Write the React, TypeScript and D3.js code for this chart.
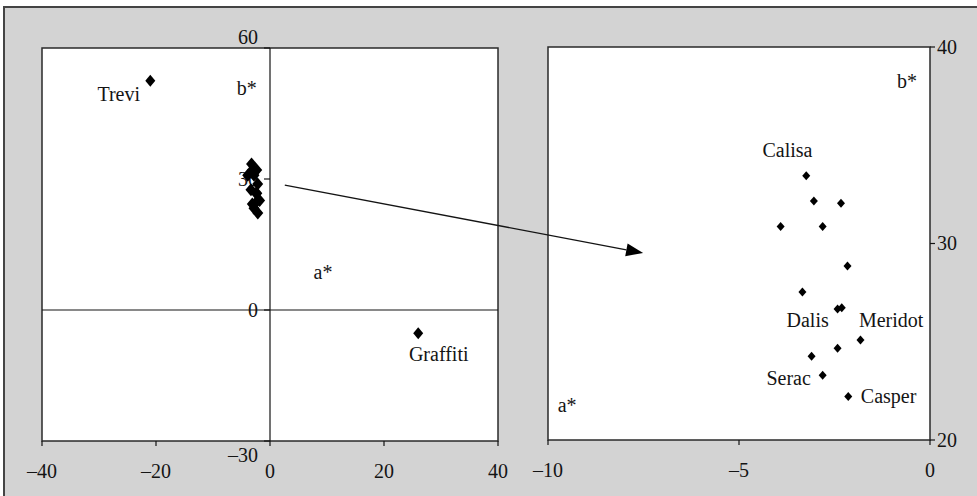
import React from 'react';
import * as d3 from 'd3';

// colour coordinates (a*, b*)
const clusterA = [-3.24, -3.04, -2.33, -3.91, -2.81, -2.16, -3.34, -2.42, -2.31, -1.82, -2.42, -3.10, -2.81, -2.14];
const clusterB = [33.45, 32.16, 32.05, 30.86, 30.86, 28.85, 27.53, 26.67, 26.73, 25.09, 24.67, 24.26, 23.29, 22.22];
const outlierA = [-21, 26];
const outlierB = [52.5, -5.3];

// labels (data position of text anchor)
const leftLabels = [
  {t: 'Trevi', a: -22.8, b: 47.9, anchor: 'end'},
  {t: 'Graffiti', a: 29.6, b: -11.7, anchor: 'middle'},
];
const rightLabels = [
  {t: 'Calisa', a: -3.73, b: 34.4, anchor: 'middle'},
  {t: 'Dalis', a: -2.65, b: 25.75, anchor: 'end'},
  {t: 'Meridot', a: -1.86, b: 25.75, anchor: 'start'},
  {t: 'Serac', a: -3.12, b: 22.8, anchor: 'end'},
  {t: 'Casper', a: -1.81, b: 21.88, anchor: 'start'},
];

const leftXTicks = [-40, -20, 0, 20, 40];
const leftYTicks = [-30, 0, 30, 60];
const rightXTicks = [-10, -5, 0];
const rightYTicks = [20, 30, 40];

// arrow: from left panel point to right panel point
const arrowFrom = {a: 2.6, b: 28.6};
const arrowTo = {a: -7.51, b: 29.52};

const W = 977, H = 496;
const font = '"Liberation Serif", "Times New Roman", serif';
const ink = '#141414';

const lx = d3.scaleLinear().domain([-40, 40]).range([42, 498]);
const ly = d3.scaleLinear().domain([-30, 60]).range([441, 48]);
const rx = d3.scaleLinear().domain([-10, 0]).range([548, 930]);
const ry = d3.scaleLinear().domain([20, 40]).range([440, 47]);

const diamond = (x: number, y: number, w: number, h: number) =>
  `M${x},${y - h}L${x + w},${y}L${x},${y + h}L${x - w},${y}Z`;

const fmt = (v: number) => (v < 0 ? '\u2013' + Math.abs(v) : String(v));

export default function App() {
  const [lx0, lx1] = lx.range();
  const [ly0, ly1] = ly.range();
  const [rx0, rx1] = rx.range();
  const [ry0, ry1] = ry.range();
  const x0 = lx(0), y0 = ly(0);
  const txt = {fontFamily: font, fontSize: 20, fill: ink} as const;

  return (
    <svg width={W} height={H} style={{position: 'absolute', left: 0, top: 0}}>
      <rect x={0} y={0} width={W} height={H} fill="#fff" />
      <rect x={4} y={7} width={W + 10} height={H + 10} fill="#d3d3d3" stroke="#444" strokeWidth={2} />

      {/* left panel */}
      <rect x={lx0} y={ly1} width={lx1 - lx0} height={ly0 - ly1} fill="#fff" stroke="#2a2a2a" strokeWidth={1.5} />
      <line x1={x0} x2={x0} y1={ly1} y2={ly0} stroke={ink} strokeWidth={1.2} />
      <line x1={lx0} x2={lx1} y1={y0} y2={y0} stroke={ink} strokeWidth={1.2} />
      {leftXTicks.map(v => (
        <g key={'lxt' + v}>
          <line x1={lx(v)} x2={lx(v)} y1={ly0} y2={ly0 + 5} stroke={ink} strokeWidth={1.2} />
          <text x={lx(v)} y={478} textAnchor="middle" {...txt}>{fmt(v)}</text>
        </g>
      ))}
      {leftYTicks.map(v => {
        const dy = v === 60 ? -11 : v === -30 ? 14 : 0;
        return (
          <g key={'lyt' + v}>
            <line x1={x0 - 6} x2={x0} y1={ly(v)} y2={ly(v)} stroke={ink} strokeWidth={1.2} />
            <text x={x0 - 12} y={ly(v) + dy} dy="0.33em" textAnchor="end" {...txt}>{fmt(v)}</text>
          </g>
        );
      })}
      <text x={lx(-4.1)} y={ly(49.2)} textAnchor="middle" {...txt}>b*</text>
      <text x={lx(9.3)} y={ly(7.2)} textAnchor="middle" {...txt}>a*</text>
      {clusterA.map((a, i) => (
        <path key={'lc' + i} d={diamond(lx(a), ly(clusterB[i]), 5.5, 6.5)} fill="#000" />
      ))}
      {outlierA.map((a, i) => (
        <path key={'lo' + i} d={diamond(lx(a), ly(outlierB[i]), 5, 6)} fill="#000" />
      ))}
      {leftLabels.map(l => (
        <text key={l.t} x={lx(l.a)} y={ly(l.b)} textAnchor={l.anchor} {...txt}>{l.t}</text>
      ))}

      {/* right panel */}
      <rect x={rx0} y={ry1} width={rx1 - rx0} height={ry0 - ry1} fill="#fff" stroke="#2a2a2a" strokeWidth={1.5} />
      {rightXTicks.map(v => (
        <g key={'rxt' + v}>
          <line x1={rx(v)} x2={rx(v)} y1={ry0} y2={ry0 + 5} stroke={ink} strokeWidth={1.2} />
          <text x={rx(v)} y={477} textAnchor="middle" {...txt}>{fmt(v)}</text>
        </g>
      ))}
      {rightYTicks.map(v => (
        <g key={'ryt' + v}>
          <line x1={rx1} x2={rx1 + 5} y1={ry(v)} y2={ry(v)} stroke={ink} strokeWidth={1.2} />
          <text x={rx1 + 7} y={ry(v)} dy="0.33em" textAnchor="start" {...txt}>{v}</text>
        </g>
      ))}
      <text x={rx(-0.6)} y={ry(37.9)} textAnchor="middle" {...txt}>b*</text>
      <text x={rx(-9.5)} y={ry(21.45)} textAnchor="middle" {...txt}>a*</text>
      {clusterA.map((a, i) => (
        <path key={'rc' + i} d={diamond(rx(a), ry(clusterB[i]), 4, 4.5)} fill="#000" />
      ))}
      {rightLabels.map(l => (
        <text key={l.t} x={rx(l.a)} y={ry(l.b)} textAnchor={l.anchor} {...txt}>{l.t}</text>
      ))}

      {/* arrow */}
      {(() => {
        const sx = lx(arrowFrom.a), sy = ly(arrowFrom.b);
        const ex = rx(arrowTo.a), ey = ry(arrowTo.b);
        const ang = Math.atan2(ey - sy, ex - sx);
        const len = 17, hw = 6.5;
        const bx = ex - len * Math.cos(ang), by = ey - len * Math.sin(ang);
        const px = -Math.sin(ang) * hw, py = Math.cos(ang) * hw;
        return (
          <g>
            <line x1={sx} y1={sy} x2={bx} y2={by} stroke={ink} strokeWidth={1.3} />
            <path d={`M${ex},${ey}L${bx + px},${by + py}L${bx - px},${by - py}Z`} fill="#000" />
          </g>
        );
      })()}
    </svg>
  );
}
